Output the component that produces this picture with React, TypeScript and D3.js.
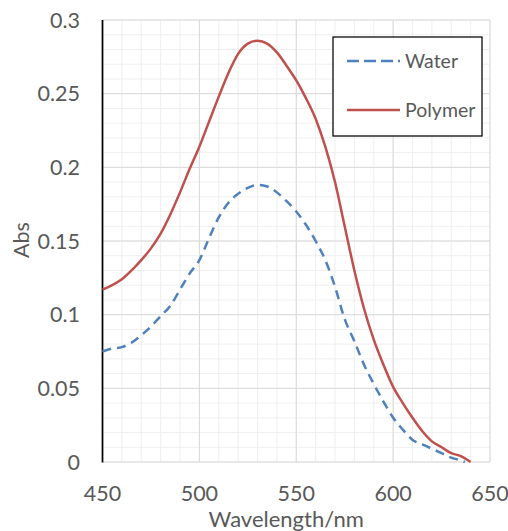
import { useEffect, useRef } from "react";
import * as d3 from "d3";

// wavelength (nm) and absorbance
const waterNm = [450, 455, 460, 465, 470, 475, 480, 485, 490, 495, 500, 505, 510, 515, 520, 525, 530, 535, 540, 545, 550, 555, 560, 565, 570, 575, 580, 585, 590, 595, 600, 605, 610, 615, 620, 625, 630, 635, 637];
const waterAbs = [0.075, 0.077, 0.078, 0.081, 0.086, 0.092, 0.099, 0.106, 0.117, 0.128, 0.137, 0.152, 0.166, 0.176, 0.182, 0.186, 0.188, 0.187, 0.183, 0.177, 0.17, 0.161, 0.15, 0.137, 0.119, 0.097, 0.082, 0.066, 0.053, 0.041, 0.03, 0.022, 0.015, 0.012, 0.009, 0.006, 0.003, 0.001, 0];

const polymerNm = [450, 455, 460, 465, 470, 475, 480, 485, 490, 495, 500, 505, 510, 515, 520, 525, 530, 535, 540, 545, 550, 555, 560, 565, 570, 575, 580, 585, 590, 595, 600, 605, 610, 615, 620, 625, 630, 635, 640];
const polymerAbs = [0.117, 0.12, 0.124, 0.13, 0.137, 0.145, 0.155, 0.168, 0.183, 0.199, 0.214, 0.231, 0.248, 0.264, 0.277, 0.284, 0.286, 0.284, 0.278, 0.269, 0.259, 0.247, 0.233, 0.214, 0.19, 0.16, 0.13, 0.104, 0.083, 0.066, 0.051, 0.04, 0.03, 0.021, 0.014, 0.01, 0.006, 0.004, 0];

const xTicks = [450, 500, 550, 600, 650];
const yTicks = [0, 0.05, 0.1, 0.15, 0.2, 0.25, 0.3];

const seriesNames = ["Water", "Polymer"];

export default function App() {
  const ref = useRef<SVGSVGElement>(null);

  useEffect(() => {
    const width = 508;
    const height = 531;
    const marginTop = 20;
    const marginRight = 18;
    const marginBottom = 69;
    const marginLeft = 102.5;
    const font = "Lato, 'Open Sans', sans-serif";
    const textColor = "#595959";

    const svg = d3.select(ref.current);
    svg.selectAll("*").remove();
    svg.attr("width", width).attr("height", height)
      .attr("viewBox", [0, 0, width, height].join(" "))
      .style("position", "absolute").style("left", 0).style("top", 0);

    const x = d3.scaleLinear().domain([450, 650]).range([marginLeft, width - marginRight]);
    const y = d3.scaleLinear().domain([0, 0.3]).range([height - marginBottom, marginTop]);

    // minor grid (every 10 nm / 0.01)
    const g = svg.append("g");
    g.selectAll(".vminor").data(d3.range(450, 651, 10)).join("line")
      .attr("x1", d => x(d)).attr("x2", d => x(d))
      .attr("y1", y(0)).attr("y2", y(0.3))
      .attr("stroke", "#efefef").attr("stroke-width", 1);
    g.selectAll(".hminor").data(d3.range(0, 31).map(i => i / 100)).join("line")
      .attr("x1", x(450)).attr("x2", x(650))
      .attr("y1", d => y(d)).attr("y2", d => y(d))
      .attr("stroke", "#efefef").attr("stroke-width", 1);

    // major grid
    g.selectAll(".vmajor").data(xTicks).join("line")
      .attr("x1", d => x(d)).attr("x2", d => x(d))
      .attr("y1", y(0)).attr("y2", y(0.3))
      .attr("stroke", "#d9d9d9").attr("stroke-width", 1);
    g.selectAll(".hmajor").data(yTicks).join("line")
      .attr("x1", x(450)).attr("x2", x(650))
      .attr("y1", d => y(d)).attr("y2", d => y(d))
      .attr("stroke", "#d9d9d9").attr("stroke-width", 1);

    // left axis line
    svg.append("line")
      .attr("x1", x(450)).attr("x2", x(450))
      .attr("y1", y(0.3)).attr("y2", y(0) + 0.5)
      .attr("stroke", "#000").attr("stroke-width", 1.75);

    // tick labels
    svg.append("g").selectAll("text").data(yTicks).join("text")
      .attr("x", 80).attr("y", d => y(d)).attr("dy", "0.35em")
      .attr("text-anchor", "end")
      .attr("font-family", font).attr("font-size", 21.5).attr("fill", textColor)
      .text(d => d3.format("~g")(d));

    svg.append("g").selectAll("text").data(xTicks).join("text")
      .attr("x", d => x(d)).attr("y", 501)
      .attr("text-anchor", "middle")
      .attr("font-family", font).attr("font-size", 21.5).attr("fill", textColor)
      .text(d => d);

    svg.append("text")
      .attr("x", x(550) - 10).attr("y", 527)
      .attr("text-anchor", "middle")
      .attr("font-family", font).attr("font-size", 22).attr("fill", textColor)
      .text("Wavelength/nm");

    svg.append("text")
      .attr("transform", `translate(29,240) rotate(-90)`)
      .attr("text-anchor", "middle")
      .attr("font-family", font).attr("font-size", 21.5).attr("fill", textColor)
      .text("Abs");

    // lines
    const line = d3.line<[number, number]>()
      .curve(d3.curveMonotoneX)
      .x(d => x(d[0]))
      .y(d => y(d[1]));

    const waterData = waterNm.map((n, i) => [n, waterAbs[i]] as [number, number]);
    const polymerData = polymerNm.map((n, i) => [n, polymerAbs[i]] as [number, number]);

    svg.append("path")
      .attr("d", line(waterData))
      .attr("fill", "none").attr("stroke", "#4f81bd")
      .attr("stroke-width", 2.5).attr("stroke-dasharray", "9,6");

    svg.append("path")
      .attr("d", line(polymerData))
      .attr("fill", "none").attr("stroke", "#c0504d")
      .attr("stroke-width", 2.5);

    // legend
    const legend = svg.append("g");
    legend.append("rect")
      .attr("x", 333).attr("y", 37).attr("width", 149).attr("height", 99)
      .attr("fill", "#fff").attr("stroke", "#000").attr("stroke-width", 1.25);
    const styles = [
      { color: "#4f81bd", dash: "12,5" },
      { color: "#c0504d", dash: null },
    ];
    seriesNames.forEach((name, i) => {
      const ly = 61 + i * 49;
      legend.append("line")
        .attr("x1", 347).attr("x2", 400).attr("y1", ly).attr("y2", ly)
        .attr("stroke", styles[i].color).attr("stroke-width", 2.5)
        .attr("stroke-dasharray", styles[i].dash);
      legend.append("text")
        .attr("x", 405).attr("y", ly).attr("dy", "0.35em")
        .attr("font-family", font).attr("font-size", 19.5).attr("fill", textColor)
        .text(name);
    });
  }, []);

  return <svg ref={ref}></svg>;
}
